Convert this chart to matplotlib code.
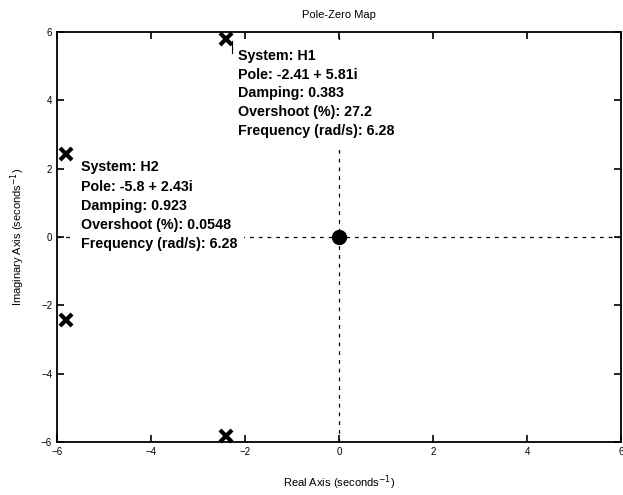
import numpy as np
import matplotlib.pyplot as plt

plt.rcParams['font.family'] = ['Liberation Sans', 'DejaVu Sans']

# poles and zeros
h1_poles_re = [-2.41, -2.41]
h1_poles_im = [5.81, -5.81]
h2_poles_re = [-5.8, -5.8]
h2_poles_im = [2.43, -2.43]
zeros_re = [0.0]
zeros_im = [0.0]

h1_info = ['System: H1', 'Pole: -2.41 + 5.81i', 'Damping: 0.383',
           'Overshoot (%): 27.2', 'Frequency (rad/s): 6.28']
h2_info = ['System: H2', 'Pole: -5.8 + 2.43i', 'Damping: 0.923',
           'Overshoot (%): 0.0548', 'Frequency (rad/s): 6.28']

ticks = [-6, -4, -2, 0, 2, 4, 6]


def main():
    fig = plt.figure(figsize=(6.23, 4.95), dpi=100)
    ax = fig.add_axes([0.0915, 0.107, 0.906, 0.828])

    ax.axhline(0, color='black', linestyle=(0, (3, 4)), linewidth=0.9, zorder=1)
    ax.axvline(0, color='black', linestyle=(0, (3, 4)), linewidth=0.9, zorder=1)

    ax.plot(h1_poles_re, h1_poles_im, 'x', color='black', markersize=9,
            markeredgewidth=3, clip_on=False, zorder=4)
    ax.plot(h2_poles_re, h2_poles_im, 'x', color='black', markersize=9,
            markeredgewidth=3, clip_on=False, zorder=4)
    ax.plot(zeros_re, zeros_im, 'o', color='black', markersize=10, zorder=4)

    # data tips (white boxes hide the dashed axes lines)
    box = dict(facecolor='white', edgecolor='none', pad=5)
    ax.plot([-2.28, -2.28], [5.75, 5.40], color='black', linewidth=0.8, zorder=5)
    ax.text(-2.15, 5.5, '\n'.join(h1_info), fontsize=10.3, fontweight='bold',
            va='top', ha='left', linespacing=1.42, bbox=box, zorder=3)
    ax.text(-5.5, 2.25, '\n'.join(h2_info), fontsize=10.3, fontweight='bold',
            va='top', ha='left', linespacing=1.48, bbox=box, zorder=3)

    ax.set_xlim(-6, 6)
    ax.set_ylim(-6, 6)
    ax.set_xticks(ticks)
    ax.set_yticks(ticks)
    ax.tick_params(direction='in', length=5, labelsize=7, top=True, right=True,
                   width=1.2)
    for s in ax.spines.values():
        s.set_linewidth(1.3)

    ax.set_title('Pole-Zero Map', fontsize=8, pad=10)
    ax.set_xlabel('Real Axis (seconds$^{-1}$)', fontsize=8, labelpad=12)
    ax.set_ylabel('Imaginary Axis (seconds$^{-1}$)', fontsize=8, labelpad=10)

    fig.savefig('out.png', dpi=100)


if __name__ == "__main__":
    main()
